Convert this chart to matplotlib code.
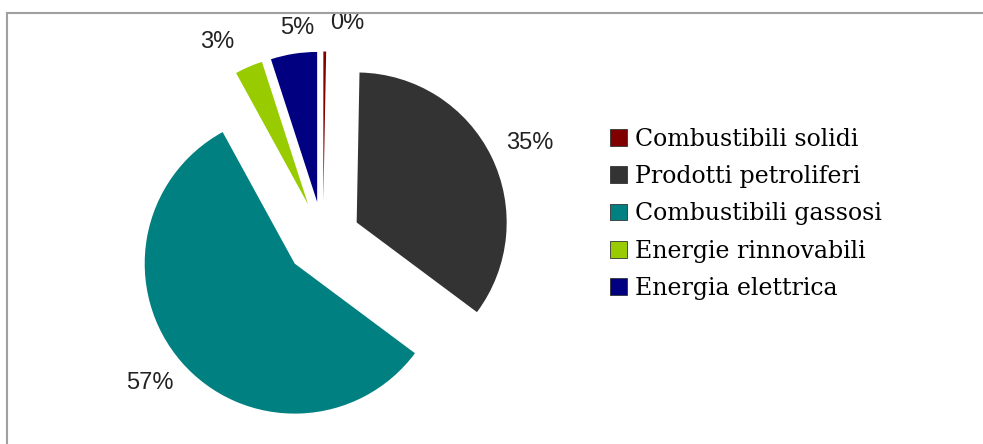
import matplotlib
matplotlib.use("Agg")
import numpy as np
import matplotlib.pyplot as plt
from matplotlib.lines import Line2D

categories = ["Combustibili solidi", "Prodotti petroliferi", "Combustibili gassosi",
              "Energie rinnovabili", "Energia elettrica"]
values = [0.3, 35, 57, 3, 5]
colors = ["#800000", "#333333", "#008080", "#99CC00", "#000080"]

# label placement (layout only): distance from exploded wedge centre, angular nudge
label_dist = [1.20, 1.27, 1.25, 1.24, 1.17]
label_nudge = [-7.0, -1.6, -1.5, 6.0, -2.5]

W, H = 983, 444
fig = plt.figure(figsize=(W / 100, H / 100), dpi=100)
fig.patch.set_facecolor("white")

cx, cy, r = 323, 444 - 239, 150
half = 1.6
ax = fig.add_axes([(cx - half * r) / W, (cy - half * r) / H, 2 * half * r / W, 2 * half * r / H])

wedges, texts = ax.pie(
    values, colors=colors, startangle=90, counterclock=False,
    explode=[0.25] * len(values), wedgeprops=dict(linewidth=0),
)
total = sum(values)
for w, v, d, n in zip(wedges, values, label_dist, label_nudge):
    mid = np.deg2rad((w.theta1 + w.theta2) / 2 + n)
    x0, y0 = w.center
    ax.text(x0 + d * w.r * np.cos(mid), y0 + d * w.r * np.sin(mid),
            f"{100 * v / total:.0f}%", ha="center", va="center",
            fontsize=17, family="Liberation Sans", color="#222222")

ax.set_xlim(-half, half)
ax.set_ylim(-half, half)
ax.set_aspect("equal", adjustable="box")
ax.axis("off")

leg = fig.legend(
    wedges, categories, loc="upper left",
    bbox_to_anchor=(610 / W, (444 - 128) / H), frameon=False,
    prop=dict(family="DejaVu Serif", size=17),
    handlelength=0.72, handleheight=0.72, handletextpad=0.35,
    labelspacing=0.6, borderpad=0, borderaxespad=0,
)
for h in leg.legend_handles:
    h.set_edgecolor("#333333")
    h.set_linewidth(0.6)

fig.add_artist(Line2D([7 / W, 1.0], [1 - 13 / H, 1 - 13 / H], transform=fig.transFigure,
                      color="#a0a0a0", linewidth=1.5))
fig.add_artist(Line2D([7 / W, 7 / W], [0, 1 - 13 / H], transform=fig.transFigure,
                      color="#a0a0a0", linewidth=1.5))

fig.savefig("out.png", dpi=100, facecolor="white")
